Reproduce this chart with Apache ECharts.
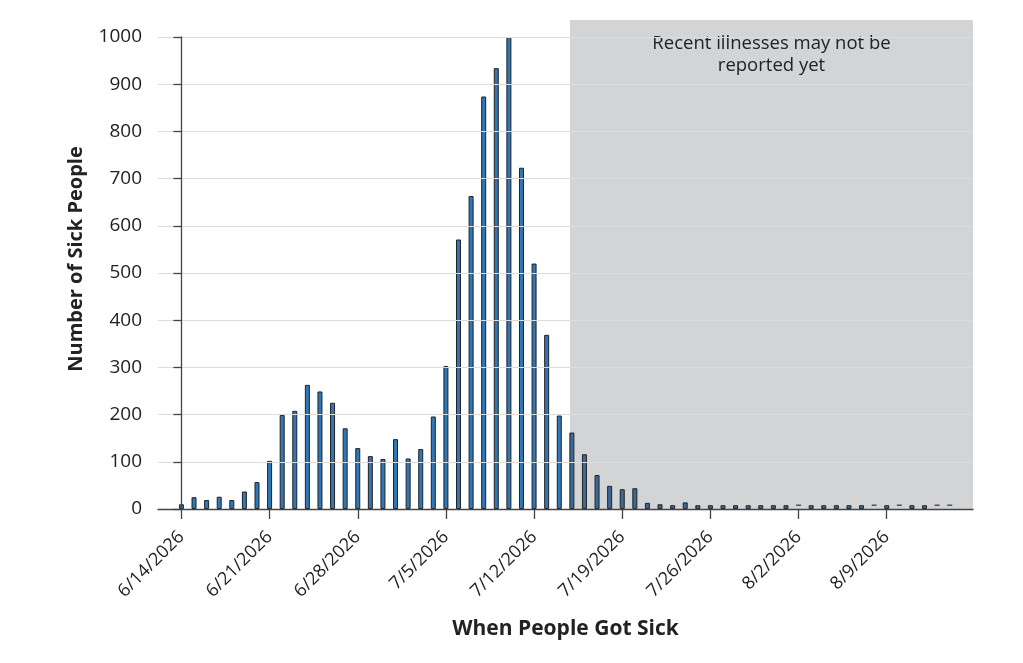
<!DOCTYPE html>
<html>
<head>
<meta charset="utf-8">
<title>When People Got Sick</title>
<script src="https://cdn.jsdelivr.net/npm/echarts@6/dist/echarts.min.js"></script>
<style>
  html, body { margin: 0; padding: 0; background: #fff; }
  #main { width: 1023px; height: 663px; }
</style>
</head>
<body>
<div id="main"></div>
<script>
// 每天的日期 (6/14/2026 - 8/14/2026)
var days = [
    '6/14/2026', '6/15/2026', '6/16/2026', '6/17/2026', '6/18/2026', '6/19/2026', '6/20/2026',
    '6/21/2026', '6/22/2026', '6/23/2026', '6/24/2026', '6/25/2026', '6/26/2026', '6/27/2026',
    '6/28/2026', '6/29/2026', '6/30/2026', '7/1/2026', '7/2/2026', '7/3/2026', '7/4/2026',
    '7/5/2026', '7/6/2026', '7/7/2026', '7/8/2026', '7/9/2026', '7/10/2026', '7/11/2026',
    '7/12/2026', '7/13/2026', '7/14/2026', '7/15/2026', '7/16/2026', '7/17/2026', '7/18/2026',
    '7/19/2026', '7/20/2026', '7/21/2026', '7/22/2026', '7/23/2026', '7/24/2026', '7/25/2026',
    '7/26/2026', '7/27/2026', '7/28/2026', '7/29/2026', '7/30/2026', '7/31/2026', '8/1/2026',
    '8/2/2026', '8/3/2026', '8/4/2026', '8/5/2026', '8/6/2026', '8/7/2026', '8/8/2026',
    '8/9/2026', '8/10/2026', '8/11/2026', '8/12/2026', '8/13/2026', '8/14/2026'
];

// 病例数 (null = 只画短横线)
var cases = [
    10, 25, 19, 26, 19, 37, 57,
    102, 199, 208, 263, 249, 225, 171,
    129, 112, 106, 148, 107, 127, 196,
    303, 571, 663, 874, 934, 1000, 723,
    520, 369, 198, 162, 116, 72, 49,
    42, 44, 13, 10, 8, 14, 8,
    8, 8, 8, 8, 8, 8, 8,
    null, 8, 8, 8, 8, 8, null,
    8, null, 8, 8, null, null
];

// 短横线标记的日期和高度
var dashDays = ['8/2/2026', '8/8/2026', '8/10/2026', '8/13/2026', '8/14/2026'];
var dashValues = [8, 8, 8, 8, 8];

// x轴刻度标签
var tickDates = ['6/14/2026', '6/21/2026', '6/28/2026', '7/5/2026', '7/12/2026',
    '7/19/2026', '7/26/2026', '8/2/2026', '8/9/2026'];

// 灰色区域从这一天开始
var lagStartDay = '7/15/2026';
var lagText = 'Recent illnesses may not be\nreported yet';

var FONT = '"Open Sans", Lato, sans-serif';
var X_MIN = -1.86, X_MAX = 62.85;
var lagIndex = days.indexOf(lagStartDay);

var barData = [];
for (var i = 0; i < days.length; i++) {
    if (cases[i] !== null) barData.push([i, cases[i]]);
}
var dashData = dashDays.map(function (d, k) { return [days.indexOf(d), dashValues[k]]; });
var tickValues = tickDates.map(function (d) { return days.indexOf(d); });

var myChart = echarts.init(document.getElementById('main'));

var option = {
    backgroundColor: '#fff',
    animation: false,
    grid: [{
        left: 158,
        right: 50,
        top: 37,
        bottom: 154
    }, {
        // 灰色区域用的网格，比图表高一点
        left: 158,
        right: 50,
        top: 20,
        bottom: 154
    }],
    xAxis: [{
        type: 'value',
        gridIndex: 0,
        min: X_MIN,
        max: X_MAX,
        name: 'When People Got Sick',
        nameLocation: 'middle',
        nameGap: 110,
        nameTextStyle: {
            fontFamily: FONT,
            fontSize: 21,
            fontWeight: 'bold',
            color: '#222'
        },
        axisLine: {
            show: true,
            lineStyle: { color: '#444', width: 1.3 }
        },
        axisTick: {
            show: true,
            length: 10,
            customValues: tickValues,
            lineStyle: { color: '#444', width: 1.3 }
        },
        axisLabel: {
            customValues: tickValues,
            rotate: 45,
            margin: 25,
            fontFamily: FONT,
            fontSize: 18,
            color: '#222',
            formatter: function (v) { return days[v]; }
        },
        splitLine: { show: false },
        z: 5
    }, {
        type: 'value',
        gridIndex: 1,
        min: X_MIN,
        max: X_MAX,
        show: false
    }],
    yAxis: [{
        type: 'value',
        gridIndex: 0,
        min: 0,
        max: 1000,
        interval: 100,
        name: 'Number of Sick People',
        nameLocation: 'middle',
        nameGap: 72,
        nameTextStyle: {
            fontFamily: FONT,
            fontSize: 20,
            fontWeight: 'bold',
            color: '#222',
            padding: [0, 0, 0, 28]
        },
        axisLine: {
            show: true,
            lineStyle: { color: '#444', width: 1.3 }
        },
        axisTick: {
            show: true,
            length: 8,
            lineStyle: { color: '#444', width: 1.3 }
        },
        axisLabel: {
            margin: 16,
            fontFamily: FONT,
            fontSize: 19,
            color: '#222',
            formatter: function (v) { return String(v); }
        },
        splitLine: {
            lineStyle: { color: '#dcdcdc', width: 1.2 }
        },
        z: 5
    }, {
        type: 'value',
        gridIndex: 1,
        min: 0,
        max: 1036,
        show: false
    }],
    series: [{
        name: 'lag',
        type: 'line',
        xAxisIndex: 1,
        yAxisIndex: 1,
        data: [],
        markArea: {
            silent: true,
            itemStyle: {
                color: 'rgba(139,142,147,0.38)'
            },
            label: {
                show: true,
                position: 'insideTop',
                distance: 13,
                fontFamily: FONT,
                fontSize: 18.5,
                lineHeight: 22,
                color: '#222',
                align: 'center'
            },
            data: [[
                { name: lagText, xAxis: lagIndex - 0.15, yAxis: 0 },
                { xAxis: X_MAX, yAxis: 1036 }
            ]]
        }
    }, {
        name: 'cases',
        type: 'bar',
        barWidth: 5,
        data: barData,
        itemStyle: {
            color: function (p) {
                return p.data[0] >= lagIndex ? '#3b6a98' : '#2f77b7';
            },
            borderColor: '#222',
            borderWidth: 1
        },
        z: 3
    }, {
        name: 'dash',
        type: 'scatter',
        symbol: 'rect',
        symbolSize: [5, 1.5],
        data: dashData,
        itemStyle: { color: '#333' },
        z: 3
    }]
};

myChart.setOption(option);
</script>
</body>
</html>
